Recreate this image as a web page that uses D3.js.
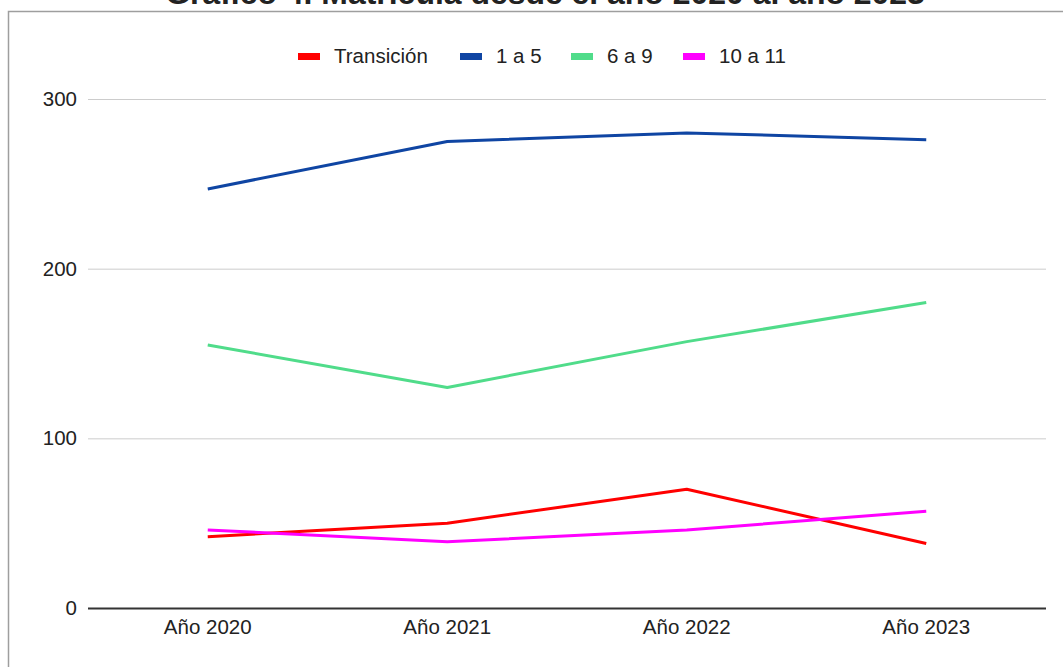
<!DOCTYPE html>
<html><head><meta charset="utf-8">
<script src="https://cdn.jsdelivr.net/npm/d3@7"></script>
<style>html,body{margin:0;padding:0;background:#fff;}svg{display:block;font-family:"Liberation Sans",Arial,sans-serif;}</style>
</head><body>
<script>
const title = "Gráfico 4. Matrícula desde el año 2020 al año 2023";
const categories = ["Año 2020", "Año 2021", "Año 2022", "Año 2023"];
const seriesNames = ["Transición", "1 a 5", "6 a 9", "10 a 11"];
const transicion = [42, 50, 70, 38];
const uno5 = [247, 275, 280, 276];
const seis9 = [155, 130, 157, 180];
const diez11 = [46, 39, 46, 57];
const yTicks = [0, 100, 200, 300];
const colors = ["#ff0000", "#0f45a3", "#50dc8a", "#ff00ff"];
const seriesValues = [transicion, uno5, seis9, diez11];

(function () {
const W = 1063, H = 667, FS = 20.5;
const svg = d3.select("body").append("svg").attr("width", W).attr("height", H);
svg.append("rect").attr("width", W).attr("height", H).attr("fill", "#fff");
svg.append("rect").attr("x", 8.5).attr("y", 11.5).attr("width", W + 10).attr("height", H + 10)
  .attr("fill", "none").attr("stroke", "#9e9e9e").attr("stroke-width", 1.5);

const pL = 88, pR = 1046, pT = 99, pB = 608;
const x = d3.scaleBand().domain(categories).range([pL, pR]);
const y = d3.scaleLinear().domain([0, 300]).range([pB, pT]);

// title (cropped at top, as in the reference)
const t = svg.append("text").attr("x", 545).attr("y", 4).attr("text-anchor", "middle")
  .attr("font-weight", "bold").attr("font-size", 26).attr("fill", "#222").text(title);
const tl = t.node().getComputedTextLength();
t.attr("font-size", 26 * 760 / tl);

// grid + y axis
const yAxis = d3.axisLeft(y).tickValues(yTicks).tickSize(-(pR - pL)).tickPadding(11).tickFormat(d3.format("d"));
const gy = svg.append("g").attr("transform", `translate(${pL},0)`).call(yAxis);
gy.select(".domain").remove();
gy.selectAll(".tick line").attr("stroke", "#cccccc").attr("stroke-width", 1);
gy.selectAll(".tick").filter(d => d === 0).select("line").attr("stroke", "#333").attr("stroke-width", 2);
gy.selectAll(".tick text").attr("font-size", FS).attr("fill", "#222").attr("font-family", "Liberation Sans, Arial, sans-serif");

const xAxis = d3.axisBottom(x).tickSize(0).tickPadding(11.5);
const gx = svg.append("g").attr("transform", `translate(0,${pB})`).call(xAxis);
gx.select(".domain").remove();
gx.selectAll(".tick text").attr("font-size", FS).attr("fill", "#222").attr("font-family", "Liberation Sans, Arial, sans-serif");

const line = d3.line().x((d, i) => x(categories[i]) + x.bandwidth() / 2).y(d => y(d));
seriesValues.forEach((vals, i) => {
  svg.append("path").datum(vals).attr("d", line).attr("fill", "none")
    .attr("stroke", colors[i]).attr("stroke-width", 3).attr("stroke-linejoin", "round");
});

// legend
const legX = [298, 460, 571, 683];
const lg = svg.append("g");
seriesNames.forEach((n, i) => {
  lg.append("rect").attr("x", legX[i]).attr("y", 53).attr("width", 22).attr("height", 7).attr("fill", colors[i]);
  lg.append("text").attr("x", legX[i] + 36).attr("y", 63).attr("font-size", FS).attr("fill", "#222").text(n);
});
})();
</script>
</body></html>
